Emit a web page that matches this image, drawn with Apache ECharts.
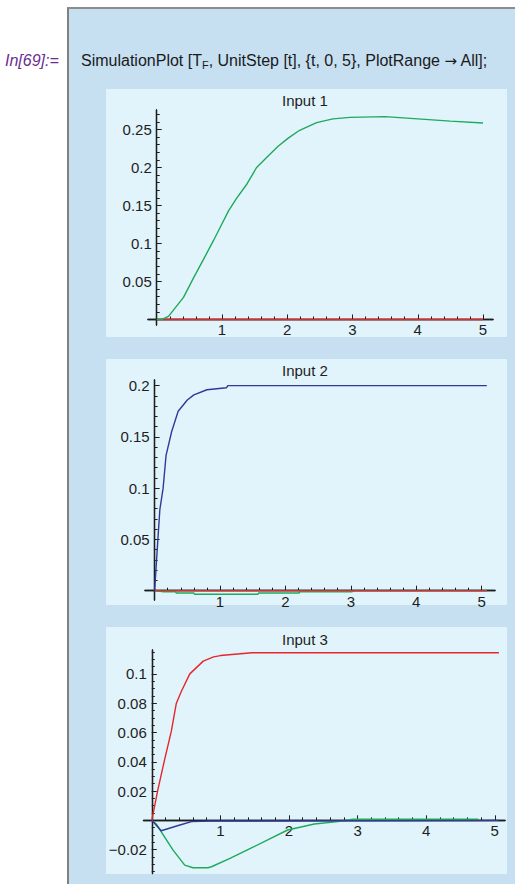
<!DOCTYPE html>
<html>
<head>
<meta charset="utf-8">
<script src="https://cdn.jsdelivr.net/npm/echarts@6/dist/echarts.min.js"></script>
<style>
  html, body { margin: 0; padding: 0; background: #fff; }
  #wrap { position: relative; width: 515px; height: 884px; overflow: hidden; font-family: "Liberation Sans", Arial, sans-serif; }
  #cell { position: absolute; left: 67px; top: 7px; width: 448px; height: 877px; background: #c6dff1;
          border-left: 2px solid #808080; border-top: 2px solid #8c8c8c; box-sizing: border-box; }
  .panel { position: absolute; left: 106px; width: 401px; background: #e1f4fb; }
  #inLabel { position: absolute; left: 5px; top: 52px; font-size: 16px; font-style: italic; color: #6a2d91; }
  #cmd { position: absolute; left: 81px; top: 52px; font-size: 16px; color: #1a1a1a; white-space: nowrap; }
  #cmd sub { font-size: 11px; vertical-align: -3px; line-height: 0; }
  #cmd .arr { font-family: "DejaVu Sans", sans-serif; font-size: 15px; }
  #chart { position: absolute; left: 0; top: 0; width: 515px; height: 884px; }
</style>
</head>
<body>
<div id="wrap">
  <div id="cell"></div>
  <div class="panel" style="top:89px;height:248px"></div>
  <div class="panel" style="top:359px;height:246px"></div>
  <div class="panel" style="top:627px;height:247px"></div>
  <div id="inLabel">In[69]:=</div>
  <div id="cmd">SimulationPlot [T<sub>F</sub>, UnitStep [t], {t, 0, 5}, PlotRange <span class="arr">→</span> All];</div>
  <div id="chart"></div>
</div>
<script>
// 标题
const titles = ['Input 1', 'Input 2', 'Input 3']
const xTicks = [1, 2, 3, 4, 5]

// Input 1
const in1T = [0, 0.08, 0.18, 0.41, 0.56, 0.71, 0.87, 1.0, 1.1, 1.22, 1.38, 1.53, 1.68, 1.86, 2.02, 2.19, 2.45, 2.7, 2.96, 3.5, 4.0, 4.5, 5.0]
const in1Green = [0, 0, 0.004, 0.029, 0.054, 0.078, 0.104, 0.126, 0.143, 0.159, 0.178, 0.2, 0.213, 0.228, 0.239, 0.249, 0.259, 0.264, 0.266, 0.267, 0.264, 0.261, 0.2585]
const in1RedT = [0, 5.0]
const in1Red = [0, 0]
const in1YTicks = [0.05, 0.1, 0.15, 0.2, 0.25]

// Input 2
const in2BlueT = [0, 0.01, 0.03, 0.05, 0.08, 0.13, 0.175, 0.26, 0.36, 0.5, 0.6, 0.8, 1.1, 1.12, 5.08]
const in2Blue = [0, 0.01, 0.03, 0.05, 0.079, 0.1, 0.132, 0.155, 0.175, 0.186, 0.191, 0.196, 0.198, 0.2, 0.2]
const in2GreenT = [0, 0.14, 0.32, 0.33, 0.6, 0.61, 1.58, 1.59, 2.21, 2.22, 3.02, 3.03, 5.08]
const in2Green = [0, -0.001, -0.001, -0.0023, -0.0023, -0.0035, -0.0035, -0.0023, -0.0023, -0.0012, -0.0012, 0, 0]
const in2RedT = [0, 5.08]
const in2Red = [0, 0]
const in2YTicks = [0.05, 0.1, 0.15, 0.2]

// Input 3
const in3RedT = [0, 0.088, 0.186, 0.284, 0.358, 0.43, 0.554, 0.75, 0.9, 1.0, 1.46, 5.06]
const in3Red = [0, 0.0208, 0.0413, 0.0607, 0.08, 0.088, 0.1, 0.1087, 0.1116, 0.1125, 0.1144, 0.1144]
const in3GreenT = [0, 0.064, 0.31, 0.48, 0.6, 0.82, 0.87, 1.14, 1.49, 1.98, 2.37, 2.71, 2.93, 4.76]
const in3Green = [0, -0.0025, -0.0203, -0.0306, -0.0324, -0.0324, -0.0317, -0.026, -0.018, -0.0066, -0.0025, -0.0009, 0.0007, 0.0007]
const in3BlueT = [0, 0.137, 0.41, 0.58, 0.85, 5.06]
const in3Blue = [0, -0.0071, -0.0032, -0.0009, -0.0005, 0]
const in3YTicks = [-0.02, 0.02, 0.04, 0.06, 0.08, 0.1]

const GREEN = '#1fa95a'
const RED = '#e5262b'
const BLUE = '#2f3a98'
const INK = '#1e1e1e'
const FONT = 'Liberation Sans'

function pairs(ts, vs) {
  return ts.map((t, i) => [t, vs[i]])
}

// 小刻度位置
function steps(from, to, step) {
  let out = []
  let n = Math.round((to - from) / step)
  for (let i = 0; i <= n; i++) {
    let v = +(from + i * step).toFixed(4)
    if (v !== 0) out.push(v)
  }
  return out
}

// 每个图的坐标范围与位置
const panels = [
  { grid: { left: 148, top: 110, width: 345, height: 215 }, x: [-0.134, 5.153], y: [-0.0073, 0.2757],
    yMajor: in1YTicks, yMinor: steps(0.01, 0.27, 0.01), titleTop: 88 },
  { grid: { left: 145, top: 380, width: 350, height: 220 }, x: [-0.147, 5.205], y: [-0.0091, 0.2055],
    yMajor: in2YTicks, yMinor: steps(0.01, 0.2, 0.01), titleTop: 358 },
  { grid: { left: 143.5, top: 650, width: 361.5, height: 223.5 }, x: [-0.121, 5.149], y: [-0.0363, 0.1163],
    yMajor: in3YTicks, yMinor: steps(-0.035, 0.115, 0.005), titleTop: 627 }
]

const xMinor = steps(0.2, 5.0, 0.2)

function fmt(v) {
  return String(+v.toFixed(3)).replace('-', '\u2212')
}

let grid = [], xAxis = [], yAxis = [], title = []

function hidden(gridIndex, range) {
  return { type: 'value', gridIndex: gridIndex, min: range[0], max: range[1], show: false,
    axisLine: { onZero: false }, splitLine: { show: false } }
}

function tickAxis(gridIndex, range, pos, ticks, labels, len, margin) {
  return {
    type: 'value', gridIndex: gridIndex, min: range[0], max: range[1], position: pos,
    axisLine: { show: true, onZero: false, lineStyle: { color: INK, width: 1.3 } },
    axisTick: { show: true, inside: true, length: len, customValues: ticks, lineStyle: { color: INK, width: 1 } },
    axisLabel: { show: !!labels, customValues: labels || ticks, margin: margin, fontFamily: FONT, fontSize: 15,
      color: INK, formatter: v => fmt(v) },
    splitLine: { show: false }
  }
}

panels.forEach((p, i) => {
  let g = p.grid
  // 零点所在像素，用于放置坐标轴
  let zeroY = g.top + g.height * p.y[1] / (p.y[1] - p.y[0])
  let zeroX = g.left + g.width * (0 - p.x[0]) / (p.x[1] - p.x[0])
  let base = grid.length

  // data grid
  grid.push({ left: g.left, top: g.top, width: g.width, height: g.height })
  xAxis.push(hidden(base, p.x))
  yAxis.push(hidden(base, p.y))

  // x axis grid, bottom at y = 0
  grid.push({ left: g.left, top: g.top, width: g.width, height: zeroY - g.top })
  xAxis.push(tickAxis(base + 1, p.x, 'bottom', xTicks, xTicks, 5, 3))
  xAxis.push(tickAxis(base + 1, p.x, 'bottom', xMinor, null, 3, 3))
  yAxis.push(hidden(base + 1, [0, 1]))

  // y axis grid, left at x = 0
  grid.push({ left: zeroX, top: g.top, width: g.left + g.width - zeroX, height: g.height })
  yAxis.push(tickAxis(base + 2, p.y, 'left', p.yMajor, p.yMajor, 5, 5))
  yAxis.push(tickAxis(base + 2, p.y, 'left', p.yMinor, null, 3, 5))
  xAxis.push(hidden(base + 2, [0, 1]))

  title.push({
    text: titles[i], left: 277, top: p.titleTop,
    textStyle: { fontFamily: FONT, fontSize: 15, fontWeight: 'normal', color: INK }
  })
})

// data axes are the first x/y axis of each panel
const dataX = [0, 4, 8]
const dataY = [0, 4, 8]

function line(p, color, data, z) {
  return {
    type: 'line', xAxisIndex: dataX[p], yAxisIndex: dataY[p], data: data, showSymbol: false, symbol: 'none',
    smooth: false, animation: false, z: z || 2, lineStyle: { color: color, width: 1.4 }
  }
}

const series = [
  line(0, RED, pairs(in1RedT, in1Red), 2),
  line(0, GREEN, pairs(in1T, in1Green), 3),
  line(1, RED, pairs(in2RedT, in2Red), 3),
  line(1, GREEN, pairs(in2GreenT, in2Green), 2),
  line(1, BLUE, pairs(in2BlueT, in2Blue), 4),
  line(2, RED, pairs(in3RedT, in3Red), 4),
  line(2, GREEN, pairs(in3GreenT, in3Green), 3),
  line(2, BLUE, pairs(in3BlueT, in3Blue), 3)
]

let myChart = echarts.init(document.getElementById('chart'), null, { renderer: 'svg' })
myChart.setOption({
  animation: false,
  backgroundColor: 'transparent',
  title: title,
  grid: grid,
  xAxis: xAxis,
  yAxis: yAxis,
  series: series
})
</script>
</body>
</html>
